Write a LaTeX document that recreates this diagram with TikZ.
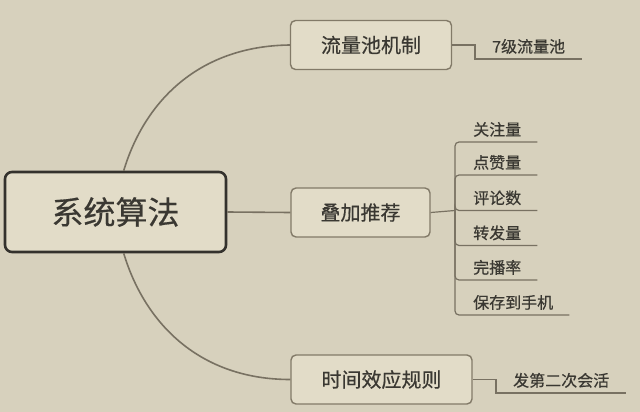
\documentclass[tikz,border=0pt]{standalone}
\usepackage{fontspec}
\newfontfamily\cjk[FakeBold=0.5]{Noto Sans CJK SC}
\usepackage{tikz}
\usetikzlibrary{positioning, calc}
\definecolor{paper}{RGB}{215,209,189}
\definecolor{boxfill}{RGB}{226,220,200}
\definecolor{ink}{RGB}{58,56,50}
\definecolor{branch}{RGB}{120,113,98}
\definecolor{rim}{RGB}{130,122,104}

\begin{document}
\begin{tikzpicture}[x=1pt, y=-1pt,
    rootbox/.style={draw=ink!90!black, line width=2.6pt, fill=boxfill, rounded corners=7pt,
      text=ink, font=\cjk\fontsize{32}{36}\selectfont, minimum width=221pt, minimum height=80pt},
    topic/.style={draw=rim, line width=1.4pt, fill=boxfill, rounded corners=5pt,
      text=ink, font=\cjk\fontsize{20}{24}\selectfont, minimum height=49pt},
    leaf/.style={anchor=south west, inner xsep=16pt, inner ysep=5pt, text=ink,
      font=\cjk\fontsize{16}{19}\selectfont},
    link/.style={draw=branch, line width=1.6pt},
    twig/.style={draw=branch, line width=1.2pt}]
  \useasboundingbox[fill=paper] (0,0) rectangle (640,412);
  % main nodes
  \node[rootbox] (root) at (115.5,212) {系统算法};
  \node[topic, minimum width=161pt] (pool) at (371,45) {流量池机制};
  \node[topic, minimum width=139pt] (stack) at (360.5,212.5) {叠加推荐};
  \node[topic, minimum width=181pt] (time) at (381.5,379.5) {时间效应规则};
  % branches
  \draw[link] (root.north west) ++(120,0) coordinate (rtop)
    .. controls (145,100) and (200,46) .. (pool.west);
  \draw[link] (root.south west) ++(120,0) coordinate (rbot)
    .. controls (145,324) and (200,379.5) .. (time.west);
  \draw[link] (root.east) -- (stack.west);
  % leaves
  \node[leaf, inner xsep=17pt] (levels) at (475,59) {7级流量池};
  \draw[twig] (pool.east) -| (levels.south west) -- (levels.south east);
  \node[leaf, inner xsep=17pt] (second) at (496,393) {发第二次会活};
  \draw[twig] (time.east) -| (second.south west) -- (second.south east);
  \coordinate (hub) at (455,210.5);
  \draw[twig] (stack.east) -- (hub);
  \foreach \name/\ypos/\txt in {follow/142/关注量, likes/175/点赞量, comments/210.5/评论数,
      shares/245.5/转发量, finish/280/完播率, saves/315/保存到手机} {
    \node[leaf] (\name) at (457,\ypos) {\txt};
    \draw[twig, rounded corners=4pt] (hub) |- (\name.south east);
  }
\end{tikzpicture}
\end{document}
